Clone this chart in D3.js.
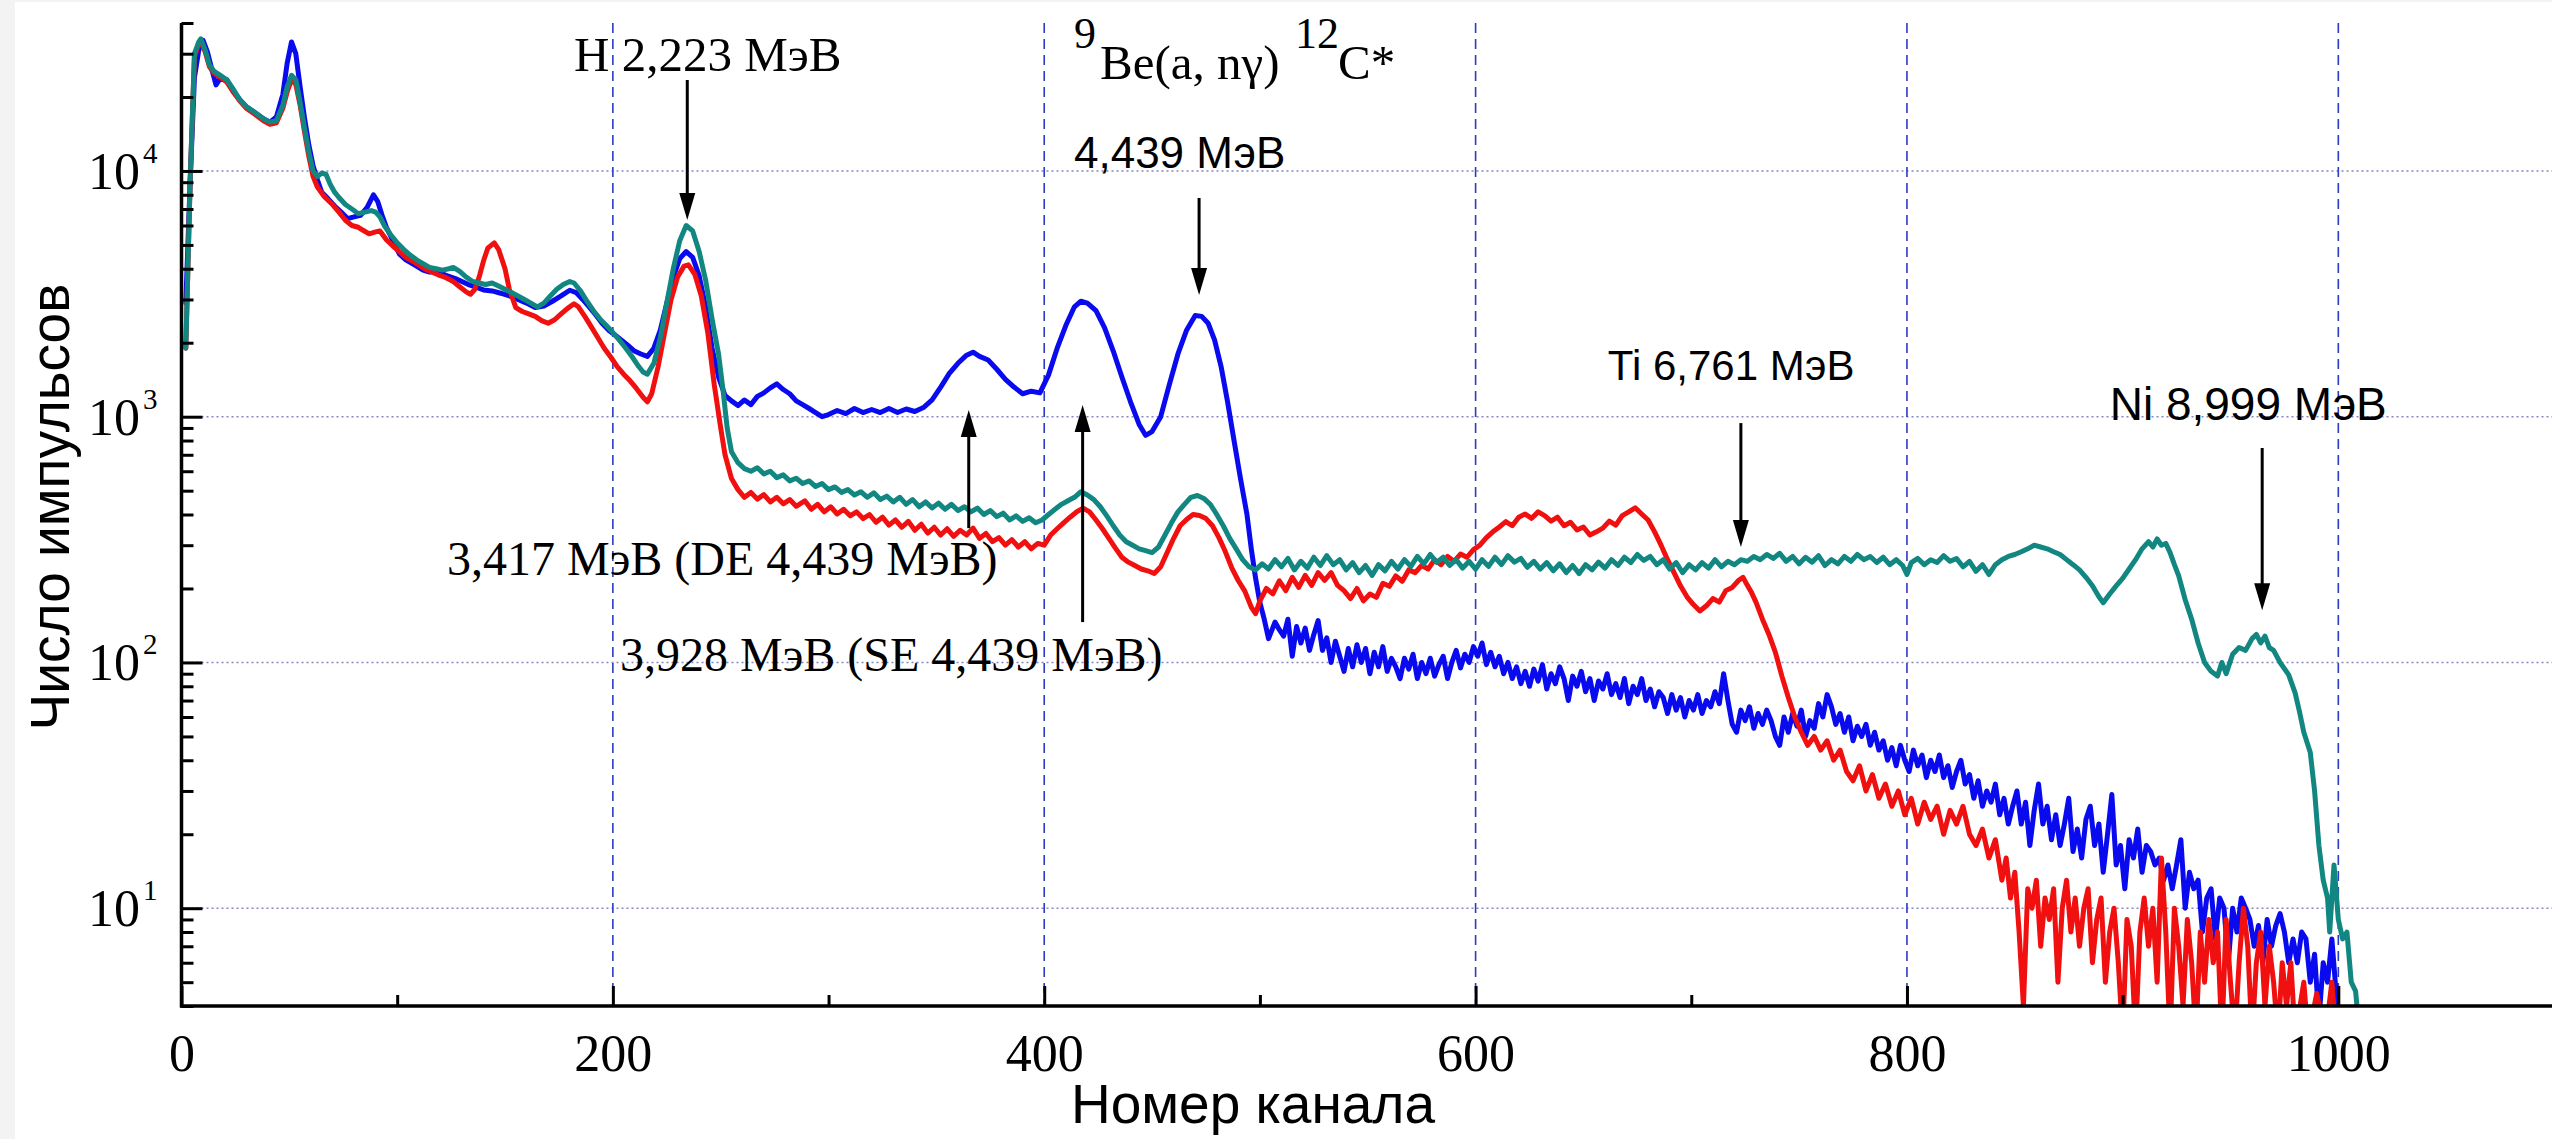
<!DOCTYPE html>
<html lang="ru">
<head>
<meta charset="utf-8">
<script src="https://cdn.jsdelivr.net/npm/d3@7"></script>
<style>
  html, body { margin: 0; padding: 0; background: #f3f3f3; }
  svg { display: block; }
</style>
</head>
<body>
<svg id="chart" width="2552" height="1139"></svg>
<script>
// Gamma spectra, counts per channel (log scale)
const blueSpectrum = [[2,2900],[4,9000],[6,24000],[8,31000],[10,34000],[12,30500],[14,26000],[16,22400],[18,23800],[21,23500],[24,21000],[27,19500],[30,18300],[34,17300],[38,16300],[41,15800],[44,16600],[47,20500],[49,27500],[51,33500],[53,30000],[55,22000],[57,16500],[59,12800],[61,10500],[63,9200],[65,8200],[68,7700],[71,7200],[74,6800],[77,6400],[80,6500],[83,6600],[86,7100],[89,8000],[91,7500],[93,6600],[95,5900],[98,5200],[101,4600],[104,4350],[108,4150],[112,3950],[115,3880],[119,3900],[123,3750],[127,3650],[130,3550],[133,3450],[136,3380],[140,3280],[144,3250],[148,3180],[152,3100],[156,3000],[160,2900],[164,2780],[168,2820],[172,2950],[176,3100],[180,3270],[183,3200],[186,3000],[189,2800],[192,2600],[195,2400],[198,2250],[201,2150],[204,2050],[207,1950],[210,1850],[213,1800],[216,1760],[219,1900],[222,2250],[225,2900],[228,3700],[231,4400],[234,4700],[237,4450],[240,3750],[243,2800],[246,1900],[249,1450],[252,1220],[255,1160],[258,1110],[261,1170],[264,1120],[267,1210],[270,1250],[273,1310],[276,1360],[279,1290],[282,1240],[285,1160],[288,1120],[291,1080],[294,1040],[297,1000],[300,1020],[304,1060],[308,1030],[312,1080],[316,1040],[320,1070],[324,1040],[328,1080],[332,1040],[336,1075],[340,1050],[344,1090],[348,1170],[352,1320],[356,1500],[360,1650],[364,1780],[367,1830],[370,1760],[374,1700],[378,1560],[382,1420],[386,1320],[390,1240],[394,1270],[398,1250],[402,1480],[406,1900],[410,2350],[414,2800],[417,2950],[420,2900],[424,2700],[428,2300],[432,1850],[436,1450],[440,1150],[444,930],[447,840],[450,870],[454,1000],[458,1350],[462,1800],[466,2250],[470,2580],[473,2560],[476,2400],[479,2050],[482,1600],[485,1150],[488,800],[491,560],[494,400],[496,290],[498,220],[500,175],[502,150],[504,125],[507,146],[509,136],[511,128],[513,150],[515,106],[517,140],[519,120],[521,138],[523,112],[525,130],[527,148],[529,112],[531,126],[533,100],[535,122],[537,106],[539,92],[541,114],[543,96],[545,118],[547,100],[549,114],[551,90],[553,110],[555,96],[557,116],[559,92],[561,104],[563,96],[565,86],[567,104],[569,94],[571,108],[573,86],[575,100],[577,90],[579,104],[581,88],[583,98],[585,106],[587,86],[589,100],[591,112],[593,95],[595,108],[597,100],[599,116],[601,106],[603,120],[605,98],[607,110],[609,96],[611,106],[613,90],[615,100],[617,86],[619,96],[621,82],[623,92],[625,80],[627,94],[629,84],[631,98],[633,78],[635,90],[637,82],[639,96],[641,86],[643,70],[645,88],[647,80],[649,92],[651,76],[653,86],[655,70],[657,84],[659,78],[661,90],[663,74],[665,82],[667,72],[669,86],[671,68],[673,80],[675,74],[677,86],[679,70],[681,78],[683,66],[685,76],[687,72],[689,62],[691,74],[693,64],[695,72],[697,60],[699,70],[701,64],[703,74],[705,62],[707,70],[709,66],[711,76],[713,68],[715,90],[717,70],[719,56],[721,52],[723,64],[725,58],[727,66],[729,54],[731,62],[733,56],[735,64],[737,58],[739,50],[741,46],[743,60],[745,52],[747,62],[749,55],[751,64],[753,50],[755,58],[757,54],[759,68],[761,60],[763,74],[765,66],[767,56],[769,62],[771,52],[773,60],[775,48],[777,55],[779,50],[781,56],[783,46],[785,52],[787,44],[789,48],[791,40],[793,45],[795,38],[797,46],[799,40],[801,36],[803,44],[805,38],[807,42],[809,34],[811,40],[813,36],[815,42],[817,34],[819,38],[821,31],[823,36],[825,40],[827,32],[829,35],[831,28],[833,33],[835,26],[837,30],[839,27],[841,32],[843,24],[845,28],[847,22],[849,26],[851,30],[853,22],[855,27],[857,18],[859,25],[861,32],[863,22],[865,26],[867,19],[869,24],[871,18],[873,22],[875,28],[877,17],[879,21],[881,16],[883,23],[885,26],[887,18],[889,22],[891,14],[893,20],[895,29],[897,15],[899,18],[901,12],[903,19],[905,16],[907,21],[909,14],[911,18],[913,17],[915,15],[917,16],[919,13],[921,15],[923,12],[925,15],[927,19],[929,10],[931,14],[933,12],[935,13],[937,8],[939,11],[941,12],[943,7.5],[945,11],[947,10],[949,6],[951,10],[953,8],[955,11],[957,10],[959,9],[961,7],[963,8.5],[965,6],[967,9],[969,7],[971,8.5],[973,9.5],[975,8],[977,6],[979,7.5],[981,6],[983,8],[985,7.5],[987,5],[989,6.5],[991,3.5],[993,6],[995,5],[997,7.5],[999,4.5],[1001,3]];

const redSpectrum = [[2,1900],[4,9000],[6,29000],[8,33000],[9,33500],[11,30500],[13,26500],[15,25000],[18,24000],[21,23000],[24,21000],[27,19300],[30,18000],[34,17000],[38,16000],[41,15500],[44,15700],[47,18000],[49,21000],[51,23500],[53,22500],[55,18500],[57,14500],[59,11500],[61,9500],[63,8600],[66,7900],[70,7300],[73,6800],[76,6300],[79,6000],[82,5900],[84,5750],[87,5550],[90,5650],[92,5700],[95,5250],[98,4950],[101,4700],[104,4450],[107,4300],[110,4150],[113,3980],[116,3880],[119,3780],[122,3700],[126,3550],[129,3380],[132,3220],[134,3150],[136,3300],[138,3700],[140,4300],[142,4850],[145,5100],[147,4800],[150,4000],[152,3300],[155,2780],[158,2680],[161,2620],[164,2560],[167,2460],[170,2400],[173,2480],[176,2620],[179,2760],[182,2880],[184,2800],[187,2560],[190,2320],[193,2100],[196,1900],[199,1750],[202,1600],[205,1490],[208,1400],[211,1300],[214,1200],[216,1150],[218,1240],[221,1600],[224,2200],[227,3000],[230,3700],[233,4100],[235,4150],[238,3800],[241,3100],[244,2200],[247,1350],[250,900],[252,700],[255,560],[258,505],[261,470],[264,492],[267,462],[270,482],[273,450],[276,470],[279,442],[282,460],[285,432],[289,455],[292,420],[295,440],[298,410],[301,430],[304,402],[307,420],[310,395],[313,410],[316,385],[319,400],[322,372],[325,390],[328,362],[331,380],[334,355],[337,375],[340,345],[343,365],[346,336],[349,355],[352,330],[355,350],[358,326],[361,345],[364,330],[367,352],[370,320],[373,335],[376,310],[379,322],[382,300],[385,316],[388,295],[391,310],[394,290],[397,305],[400,300],[403,330],[406,350],[409,370],[412,390],[415,410],[418,425],[421,410],[424,380],[427,350],[430,320],[433,292],[436,268],[439,256],[442,248],[445,240],[448,236],[451,230],[454,245],[457,280],[460,320],[463,360],[466,382],[469,400],[472,396],[475,385],[478,360],[481,322],[484,282],[487,242],[490,215],[493,195],[496,168],[498,158],[500,178],[503,200],[506,190],[509,215],[512,196],[515,222],[518,202],[521,226],[524,206],[527,232],[530,216],[533,232],[536,206],[539,196],[542,182],[545,200],[548,178],[551,190],[554,184],[557,210],[560,204],[563,225],[566,214],[569,238],[572,232],[575,248],[578,240],[581,262],[584,250],[587,270],[590,258],[593,276],[596,268],[599,288],[602,300],[605,322],[608,340],[611,356],[614,374],[617,360],[620,390],[623,402],[626,386],[629,410],[632,396],[635,376],[638,390],[641,360],[644,372],[647,346],[650,356],[653,330],[656,340],[659,352],[662,376],[665,362],[668,396],[671,410],[674,426],[677,402],[680,380],[683,340],[686,300],[689,262],[692,232],[695,205],[698,185],[701,172],[704,162],[707,170],[710,182],[713,176],[716,196],[719,202],[722,216],[724,222],[726,206],[728,192],[730,176],[733,150],[736,130],[739,110],[742,88],[745,72],[748,60],[751,52],[754,46],[757,50],[760,44],[763,48],[766,40],[769,44],[772,36],[775,33],[778,38],[781,30],[784,35],[787,28],[790,32],[793,26],[796,30],[799,24],[802,28],[805,22],[808,27],[811,23],[814,26],[817,20],[820,25],[823,22],[826,26],[829,20],[832,18],[835,21],[838,16],[841,19],[844,13],[846,16],[848,11],[850,14],[852,8],[854,4],[856,12],[858,10],[860,13],[862,7],[864,11],[866,9],[868,12],[870,5],[872,10],[874,13],[876,8],[878,11],[880,7],[882,10],[884,12],[886,6],[888,9],[890,11],[892,5],[894,8],[896,10],[898,6],[900,3],[902,9],[904,7],[906,3],[908,8],[910,11],[912,7],[914,10],[916,5],[918,16],[920,8],[922,3],[924,10],[926,7],[928,4],[930,9],[932,6],[934,3],[936,8],[938,5],[940,9],[942,6],[944,8],[946,3],[948,9],[950,5],[952,3],[954,6],[956,10],[958,7],[960,3],[962,6],[964,8],[966,4],[968,7],[970,5],[972,3],[974,6],[976,4],[978,6],[980,3],[984,5],[986,3],[990,4.5],[994,3],[997,5],[999,3],[1001,2]];

const tealSpectrum = [[2,1900],[4,9000],[6,30000],[8,33500],[9,34500],[11,31000],[13,27000],[15,25500],[18,24500],[21,23500],[24,21500],[27,19500],[30,18300],[34,17300],[38,16300],[41,15800],[44,16000],[47,18500],[49,22000],[51,24500],[53,23500],[55,19000],[57,15000],[59,12000],[61,10000],[63,9500],[65,9800],[67,9700],[69,8800],[71,8200],[73,7800],[76,7300],[79,7000],[82,6700],[85,6800],[88,6900],[90,6800],[92,6500],[94,6000],[97,5500],[100,5100],[103,4800],[106,4550],[109,4350],[112,4200],[115,4050],[118,4000],[121,3950],[124,4000],[126,4050],[129,3900],[132,3700],[135,3550],[138,3500],[141,3450],[144,3500],[147,3400],[150,3300],[153,3200],[156,3100],[159,3000],[162,2900],[165,2800],[168,2900],[171,3100],[174,3300],[177,3450],[180,3550],[182,3500],[185,3250],[188,2950],[191,2700],[194,2500],[197,2350],[200,2200],[203,2050],[206,1900],[209,1750],[212,1600],[214,1520],[216,1490],[219,1650],[222,2100],[225,2900],[228,4000],[231,5200],[234,6000],[237,5700],[240,4700],[243,3600],[246,2500],[249,1800],[251,1300],[253,900],[255,720],[258,650],[261,615],[264,600],[267,620],[270,585],[273,600],[276,565],[279,580],[282,548],[285,562],[288,535],[291,548],[294,520],[297,535],[300,505],[303,518],[306,492],[309,505],[312,480],[315,495],[318,470],[321,490],[324,460],[327,475],[330,450],[333,470],[336,440],[339,460],[342,430],[345,450],[348,425],[351,445],[354,420],[357,440],[360,415],[363,430],[366,410],[369,425],[372,400],[375,415],[378,392],[381,405],[384,380],[387,395],[390,375],[393,388],[396,370],[399,380],[402,400],[405,420],[408,440],[411,455],[414,470],[417,495],[420,480],[423,460],[426,430],[429,395],[432,360],[435,330],[438,310],[441,300],[444,290],[447,285],[450,280],[453,295],[456,330],[459,370],[462,410],[465,440],[468,470],[471,478],[474,465],[477,440],[480,400],[483,360],[486,320],[489,290],[492,262],[495,245],[498,238],[501,252],[504,240],[507,262],[510,245],[513,265],[516,238],[519,258],[522,242],[525,268],[528,248],[531,272],[534,250],[537,262],[540,238],[543,255],[546,232],[549,248],[552,226],[555,250],[558,236],[561,258],[564,240],[567,262],[570,246],[573,270],[576,252],[579,275],[582,255],[585,268],[588,248],[591,262],[594,242],[597,258],[600,240],[603,262],[606,246],[609,268],[612,250],[615,272],[618,256],[621,265],[624,244],[627,258],[630,240],[633,255],[636,236],[639,252],[642,232],[645,248],[648,230],[651,250],[654,238],[657,256],[660,242],[663,262],[666,248],[669,268],[672,255],[675,275],[678,260],[681,270],[684,250],[687,262],[690,240],[693,255],[696,232],[699,250],[702,238],[705,255],[708,242],[711,262],[714,245],[717,258],[720,250],[723,262],[726,258],[729,270],[732,262],[735,275],[738,265],[741,278],[744,258],[747,270],[750,252],[753,268],[756,256],[759,272],[762,248],[765,262],[768,252],[771,270],[774,258],[777,275],[780,262],[783,270],[786,255],[789,268],[792,250],[795,262],[798,248],[800,228],[802,255],[805,265],[808,250],[811,262],[814,255],[817,272],[820,258],[823,265],[826,245],[829,258],[832,235],[835,250],[838,228],[841,250],[844,262],[847,270],[850,275],[853,282],[856,290],[859,300],[862,295],[865,290],[868,282],[871,275],[874,262],[877,250],[880,238],[883,222],[886,205],[889,185],[891,175],[894,190],[897,205],[900,220],[903,240],[906,262],[909,290],[912,310],[914,295],[916,318],[918,300],[920,305],[922,280],[924,250],[926,225],[929,180],[932,150],[935,120],[938,100],[941,92],[944,88],[946,100],[948,90],[951,108],[954,115],[957,112],[960,125],[962,130],[964,120],[966,128],[968,115],[970,112],[973,100],[977,89],[980,75],[982,63],[984,52],[987,43],[989,30],[991,18],[993,13],[995,11],[996,8],[998,15],[1000,9],[1002,7.5],[1004,8],[1006,5],[1008,4.6],[1010,3]];

// Axis ticks
const xMajorTicks = [0, 200, 400, 600, 800, 1000];
const xMinorTicks = [100, 300, 500, 700, 900, 1100];
const yMajorTicks = [10, 100, 1000, 10000];
const yMinorTicks = [4, 5, 6, 7, 8, 9, 20, 30, 40, 50, 60, 70, 80, 90, 200, 300, 400, 500, 600, 700, 800, 900,
                     2000, 3000, 4000, 5000, 6000, 7000, 8000, 9000, 20000, 30000, 40000];
const yTickExponents = ["1", "2", "3", "4"];

// Peak markers: channel, count at arrow tip, count at arrow tail
const arrowChannels = [234.5, 471.8, 723, 964.7, 365, 417.8];
const arrowTipCounts = [6310, 3130, 295, 163, 1065, 1116];
const arrowTailCounts = [23450, 7760, 942, 746, 352, 146];

// Peak labels: text, left channel, baseline count
const labelTexts = ["H 2,223 МэВ", "4,439 МэВ", "Ti 6,761 МэВ", "Ni 8,999 МэВ",
                    "3,417 МэВ (DE 4,439 МэВ)", "3,928 МэВ (SE 4,439 МэВ)"];
const labelChannels = [182, 413.8, 661.3, 894, 123.1, 203.3];
const labelCounts = [25500, 10280, 1410, 971, 227, 92.3];

const SERIF = '"Liberation Serif", "Times New Roman", serif';
const SANS = '"Liberation Sans", Arial, sans-serif';

const svg = d3.select("#chart");
const W = 2552, H = 1139;

const x = d3.scaleLinear().domain([0, 1100]).range([181.5, 2554]);
const y = d3.scaleLog().domain([4, 40000]).range([1006, 23]);

// page panel
svg.append("rect").attr("x", 15).attr("y", 2).attr("width", W - 15).attr("height", H - 2).attr("fill", "#ffffff");

// grid
const grid = svg.append("g");
grid.selectAll("line.h").data(yMajorTicks).join("line")
  .attr("x1", x(0)).attr("x2", W).attr("y1", d => y(d)).attr("y2", d => y(d))
  .attr("stroke", "#8585c4").attr("stroke-width", 1.5).attr("stroke-dasharray", "2,3");
grid.selectAll("line.v").data(xMajorTicks.filter(d => d > 0)).join("line")
  .attr("x1", d => x(d)).attr("x2", d => x(d)).attr("y1", y(40000)).attr("y2", y(4))
  .attr("stroke", "#2b3bc4").attr("stroke-width", 1.6).attr("stroke-dasharray", "10,6");

// spectra
svg.append("clipPath").attr("id", "plotClip").append("rect")
  .attr("x", x(0)).attr("y", 0).attr("width", W - x(0)).attr("height", y(4));
const line = d3.line().x(d => x(d[0])).y(d => y(d[1]));
const curves = svg.append("g").attr("clip-path", "url(#plotClip)");
[[blueSpectrum, "#0a0aef"], [redSpectrum, "#f01010"], [tealSpectrum, "#128782"]].forEach(([data, color]) => {
  curves.append("path").datum(data).attr("d", line)
    .attr("fill", "none").attr("stroke", color).attr("stroke-width", 5)
    .attr("stroke-linejoin", "round").attr("stroke-linecap", "round");
});

// axes
function styleAxis(g) {
  g.select(".domain").remove();
  g.selectAll(".tick line").attr("stroke", "#000").attr("stroke-width", 3);
}
svg.append("g").attr("transform", `translate(${x(0)},0)`)
  .call(d3.axisLeft(y).tickValues(yMinorTicks).tickSizeInner(-12).tickSizeOuter(0).tickFormat(""))
  .call(styleAxis);
svg.append("g").attr("transform", `translate(${x(0)},0)`)
  .call(d3.axisLeft(y).tickValues(yMajorTicks).tickSizeInner(-21).tickSizeOuter(0).tickFormat(""))
  .call(styleAxis);
svg.append("g").attr("transform", `translate(0,${y(4)})`)
  .call(d3.axisBottom(x).tickValues(xMinorTicks).tickSizeInner(-11).tickSizeOuter(0).tickFormat(""))
  .call(styleAxis);
const xAxis = svg.append("g").attr("transform", `translate(0,${y(4)})`)
  .call(d3.axisBottom(x).tickValues(xMajorTicks).tickSizeInner(-20).tickSizeOuter(0).tickPadding(28).tickFormat(d3.format("d")))
  .call(styleAxis);
xAxis.selectAll(".tick text").attr("font-family", SERIF).attr("font-size", 52).attr("fill", "#000");

svg.append("line").attr("x1", x(0)).attr("x2", x(0)).attr("y1", y(40000)).attr("y2", y(4) + 1.5)
  .attr("stroke", "#000").attr("stroke-width", 3.5);
svg.append("line").attr("x1", x(0) - 1.5).attr("x2", W).attr("y1", y(4)).attr("y2", y(4))
  .attr("stroke", "#000").attr("stroke-width", 3.5);

// y tick labels: 10 with superscript exponent
const yLabels = svg.append("g").attr("font-family", SERIF).attr("fill", "#000");
yMajorTicks.forEach((v, i) => {
  yLabels.append("text").attr("x", 140).attr("y", y(v) + 18).attr("text-anchor", "end")
    .attr("font-size", 52).text("10");
  yLabels.append("text").attr("x", 143).attr("y", y(v) - 8).attr("text-anchor", "start")
    .attr("font-size", 29).text(yTickExponents[i]);
});

// axis titles
svg.append("text").attr("x", 1253).attr("y", 1123).attr("text-anchor", "middle")
  .attr("font-family", SANS).attr("font-size", 55).attr("fill", "#000").text("Номер канала");
svg.append("text").attr("transform", "translate(69,507) rotate(-90)").attr("text-anchor", "middle")
  .attr("font-family", SANS).attr("font-size", 55).attr("fill", "#000").text("Число импульсов");

// arrows
const arrows = svg.append("g");
arrowChannels.forEach((ch, i) => {
  const ax = x(ch), tip = y(arrowTipCounts[i]), tail = y(arrowTailCounts[i]);
  const dir = tip > tail ? 1 : -1;          // 1: pointing down
  const headLen = 27, headHalf = 8;
  arrows.append("line").attr("x1", ax).attr("x2", ax).attr("y1", tail).attr("y2", tip - dir * (headLen - 2))
    .attr("stroke", "#000").attr("stroke-width", 3);
  arrows.append("path")
    .attr("d", `M${ax},${tip} L${ax - headHalf},${tip - dir * headLen} L${ax + headHalf},${tip - dir * headLen} Z`)
    .attr("fill", "#000");
});

// peak labels
const labelFonts = [SERIF, SANS, SANS, SANS, SERIF, SERIF];
const labelSizes = [49, 44, 42, 46, 48, 48];
labelTexts.forEach((t, i) => {
  svg.append("text").attr("x", x(labelChannels[i])).attr("y", y(labelCounts[i]))
    .attr("font-family", labelFonts[i]).attr("font-size", labelSizes[i]).attr("fill", "#000").text(t);
});

// reaction label: 9Be(a, nγ) 12C*
const rx = x(413.8), rBase = y(23670), rSup = y(31650);
const reaction = svg.append("g").attr("font-family", SERIF).attr("fill", "#000");
reaction.append("text").attr("x", rx).attr("y", rSup).attr("font-size", 44).text("9");
reaction.append("text").attr("x", rx + 26).attr("y", rBase).attr("font-size", 49).text("Be(a, nγ)");
reaction.append("text").attr("x", rx + 221).attr("y", rSup).attr("font-size", 44).text("12");
reaction.append("text").attr("x", rx + 264).attr("y", rBase).attr("font-size", 49).text("C*");
</script>
</body>
</html>
